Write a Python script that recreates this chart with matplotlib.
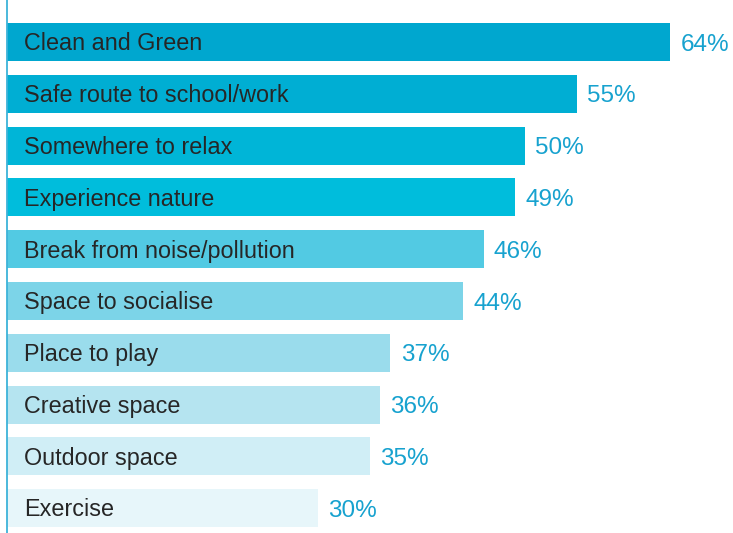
import matplotlib.pyplot as plt

# data
labels = ["Clean and Green", "Safe route to school/work", "Somewhere to relax",
          "Experience nature", "Break from noise/pollution", "Space to socialise",
          "Place to play", "Creative space", "Outdoor space", "Exercise"]
values = [64, 55, 50, 49, 46, 44, 37, 36, 35, 30]
colors = ["#00A7CF", "#00AED3", "#00B5D7", "#00BDDC", "#52CAE3",
          "#7CD4E8", "#9ADCEC", "#B5E4F0", "#D0EEF6", "#E7F6FA"]

plt.rcParams['font.family'] = ['Liberation Sans', 'DejaVu Sans']

fig = plt.figure(figsize=(7.33, 5.33), dpi=100)
ax = fig.add_axes([7 / 733, 0, 726 / 733, 1])

ypos = list(range(len(labels)))
ax.barh(ypos, values, height=0.735, color=colors)

fs_lab = 16.8
fs_val = 17.5
for y, lab, v in zip(ypos, labels, values):
    # baseline placed so that cap height is centred on the bar
    ax.annotate(lab, (0, y), xytext=(12, -0.358 * fs_lab), textcoords='offset points',
                va='baseline', ha='left', fontsize=fs_lab, color='#262626')
    ax.annotate(f"{v}%", (v, y), xytext=(7.5, -0.358 * fs_val), textcoords='offset points',
                va='baseline', ha='left', fontsize=fs_val, color='#17A2CF')

ax.set_xlim(0, 726 / 10.36)
ax.set_ylim(9.48, -0.81)
ax.set_xticks([])
ax.set_yticks([])
for s in ['top', 'right', 'bottom']:
    ax.spines[s].set_visible(False)
ax.spines['left'].set_color('#3DB3D9')
ax.spines['left'].set_linewidth(1.3)

fig.savefig("out.png", dpi=100)
